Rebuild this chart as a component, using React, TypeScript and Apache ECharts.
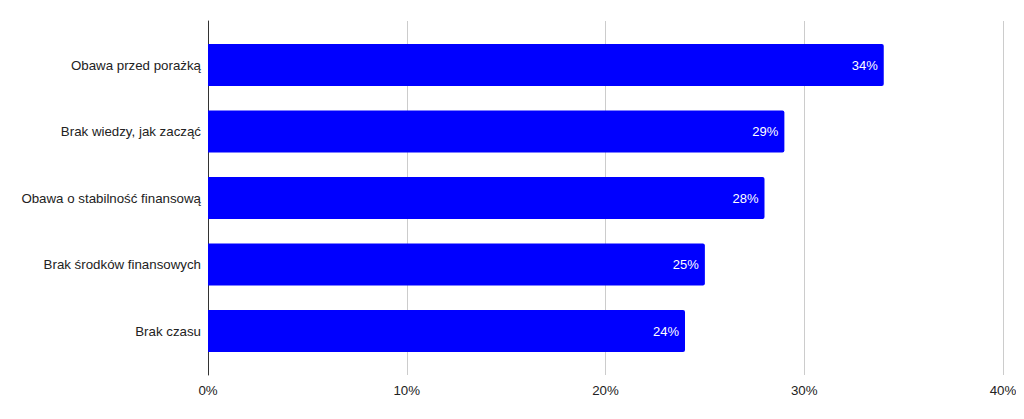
import React, { useEffect, useRef } from "react";
import * as echarts from "echarts";

const categories = [
  "Obawa przed porażką",
  "Brak wiedzy, jak zacząć",
  "Obawa o stabilność finansową",
  "Brak środków finansowych",
  "Brak czasu",
];
const values = [34, 29, 28, 25, 24];
const xTicks = [0, 10, 20, 30, 40];

const FONT = "'Liberation Sans', Arial, sans-serif";

export default function App() {
  const ref = useRef<HTMLDivElement>(null);
  useEffect(() => {
    if (!ref.current) return;
    const chart = echarts.init(ref.current, undefined, { renderer: "svg" });
    chart.setOption({
      animation: false,
      textStyle: { fontFamily: FONT },
      grid: [
        { left: 208, right: 21, top: 31.75, bottom: 54.75 },
        { left: 208, right: 21, top: 21, bottom: 44 },
      ],
      xAxis: [
        {
          gridIndex: 0,
          type: "value",
          min: xTicks[0],
          max: xTicks[xTicks.length - 1],
          interval: 10,
          show: false,
        },
        {
          gridIndex: 1,
          type: "value",
          min: xTicks[0],
          max: xTicks[xTicks.length - 1],
          interval: 10,
          axisLine: { show: false },
          axisTick: { show: false },
          splitLine: { show: true, lineStyle: { color: "#cccccc", width: 1 } },
          axisLabel: {
            formatter: "{value}%",
            color: "#222222",
            fontSize: 13.3,
            margin: 9,
            fontFamily: FONT,
          },
        },
      ],
      yAxis: [
        {
          gridIndex: 0,
          type: "category",
          data: categories,
          inverse: true,
          axisLine: { show: false },
          axisTick: { show: false },
          axisLabel: {
            color: "#222222",
            fontSize: 13.3,
            margin: 7,
            fontFamily: FONT,
          },
        },
        {
          gridIndex: 1,
          type: "value",
          min: 0,
          max: 1,
          axisLine: { show: true, onZero: false, lineStyle: { color: "#333333", width: 1 } },
          axisTick: { show: false },
          axisLabel: { show: false },
          splitLine: { show: false },
        },
      ],
      series: [
        {
          type: "bar",
          xAxisIndex: 0,
          yAxisIndex: 0,
          data: values,
          barWidth: 42,
          itemStyle: { color: "#0000ff", borderRadius: [0, 2, 2, 0] },
          label: {
            show: true,
            position: "insideRight",
            distance: 6,
            formatter: "{c}%",
            color: "#ffffff",
            fontSize: 13,
            fontFamily: FONT,
          },
        },
      ],
    });
    return () => chart.dispose();
  }, []);
  return <div ref={ref} style={{ width: 1024, height: 419, margin: -8 }} />;
}
